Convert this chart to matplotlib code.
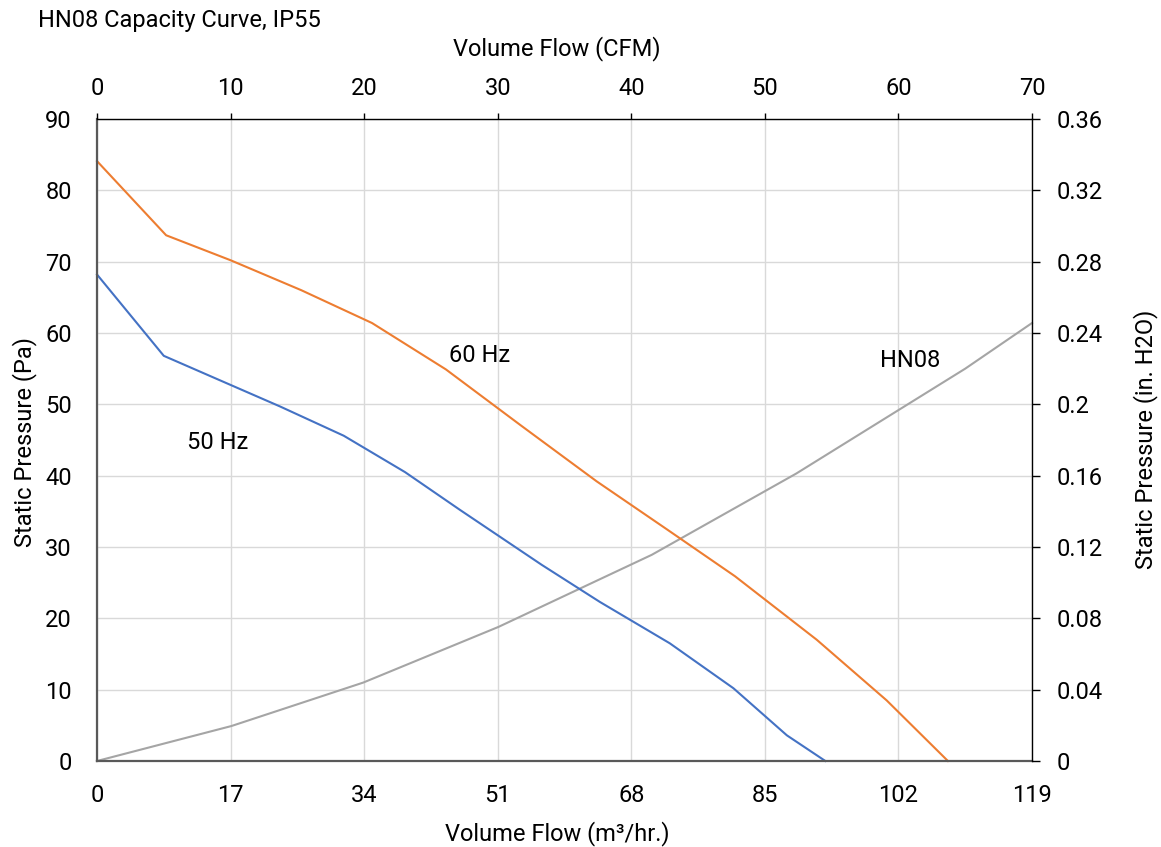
import matplotlib
matplotlib.use("Agg")
import matplotlib.pyplot as plt

plt.rcParams['font.family'] = ['Roboto', 'DejaVu Sans']

# Data (m3/hr, Pa)
hz60_flow = [0, 8.8, 17, 26, 35, 44.4, 54, 63.6, 72.5, 81.2, 91.6, 100.5, 108.3]
hz60_pres = [84.1, 73.7, 70.2, 66.0, 61.4, 54.9, 47.0, 39.2, 32.5, 25.9, 17.0, 8.5, 0]

hz50_flow = [0, 8.5, 16, 23.3, 31.4, 39.2, 46.2, 56.6, 64, 72.9, 81, 87.8, 92.7]
hz50_pres = [68.2, 56.8, 53.2, 49.7, 45.6, 40.5, 35.2, 27.5, 22.3, 16.5, 10.2, 3.6, 0]

sys_flow = [0, 17.1, 33.9, 51.1, 70.6, 89.0, 110.5, 119.0]
sys_pres = [0, 4.9, 11.0, 18.8, 28.9, 40.3, 55.0, 61.4]

x_ticks_m3h = [0, 17, 34, 51, 68, 85, 102, 119]
y_ticks_pa = [0, 10, 20, 30, 40, 50, 60, 70, 80, 90]
x_ticks_cfm = [0, 10, 20, 30, 40, 50, 60, 70]
y_ticks_inh2o = [0, 0.04, 0.08, 0.12, 0.16, 0.2, 0.24, 0.28, 0.32, 0.36]
y_tick_labels_inh2o = ['0', '0.04', '0.08', '0.12', '0.16', '0.2', '0.24', '0.28', '0.32', '0.36']

W, H = 1161, 847
fig = plt.figure(figsize=(W / 100, H / 100), dpi=100)

def fx(px):
    return px / W

def fy(py):
    return 1 - py / H

L, R, T, B = 97, 1032, 119, 761
ax = fig.add_axes([fx(L), fy(B), fx(R) - fx(L), fy(T) - fy(B)])

FS = 17
GRID = '#d9d9d9'
DARK = '#595959'

ax.set_xlim(0, 119)
ax.set_ylim(0, 90)
ax.set_xticks(x_ticks_m3h)
ax.set_yticks(y_ticks_pa)
ax.grid(True, color=GRID, lw=1.0)
ax.set_axisbelow(True)
ax.tick_params(axis='both', length=0, labelsize=FS, colors='black')
ax.tick_params(axis='x', pad=16.5)
ax.tick_params(axis='y', pad=18)
for s in ['top', 'right']:
    ax.spines[s].set_visible(False)
for s in ['left', 'bottom']:
    ax.spines[s].set_color(DARK)
    ax.spines[s].set_linewidth(1.6)
    ax.spines[s].set_zorder(5)

ax.plot(sys_flow, sys_pres, color='#A5A5A5', lw=1.5, zorder=3, clip_on=False)
ax.plot(hz50_flow, hz50_pres, color='#4472C4', lw=1.5, zorder=3, clip_on=False)
ax.plot(hz60_flow, hz60_pres, color='#ED7D31', lw=1.5, zorder=3, clip_on=False)

ax.text(44.8, 56.8, '60 Hz', fontsize=FS, va='center', ha='left')
ax.text(11.5, 44.6, '50 Hz', fontsize=FS, va='center', ha='left')
ax.text(99.7, 56.1, 'HN08', fontsize=FS, va='center', ha='left')

# right axis (in. H2O)
axr = ax.twinx()
axr.set_ylim(0, 0.36)
axr.set_yticks(y_ticks_inh2o)
axr.set_yticklabels(y_tick_labels_inh2o)
axr.tick_params(axis='y', direction='out', length=6, width=1, pad=12, labelsize=FS, colors='black')
for s in ['top', 'left', 'bottom']:
    axr.spines[s].set_visible(False)
axr.spines['right'].set_color('black')
axr.spines['right'].set_linewidth(1.0)

# top axis (CFM)
axt = ax.twiny()
axt.set_xlim(0, 70)
axt.set_xticks(x_ticks_cfm)
axt.tick_params(axis='x', direction='out', length=4.3, width=1, pad=9.4, labelsize=FS, colors='black')
for s in ['right', 'left', 'bottom']:
    axt.spines[s].set_visible(False)
axt.spines['top'].set_color('black')
axt.spines['top'].set_linewidth(1.0)

# labels
fig.text(fx(38), fy(27.3), 'HN08 Capacity Curve, IP55', fontsize=FS, ha='left', va='baseline')
fig.text(fx(557), fy(49), 'Volume Flow (CFM)', fontsize=FS, ha='center', va='center')
fig.text(fx(557), fy(834), 'Volume Flow (m³/hr.)', fontsize=FS, ha='center', va='center')
fig.text(fx(25), fy(442), 'Static Pressure (Pa)', fontsize=FS, ha='center', va='center', rotation=90)
fig.text(fx(1146), fy(439), 'Static Pressure (in. H2O)', fontsize=FS, ha='center', va='center', rotation=90)

fig.savefig('out.png', dpi=100)
